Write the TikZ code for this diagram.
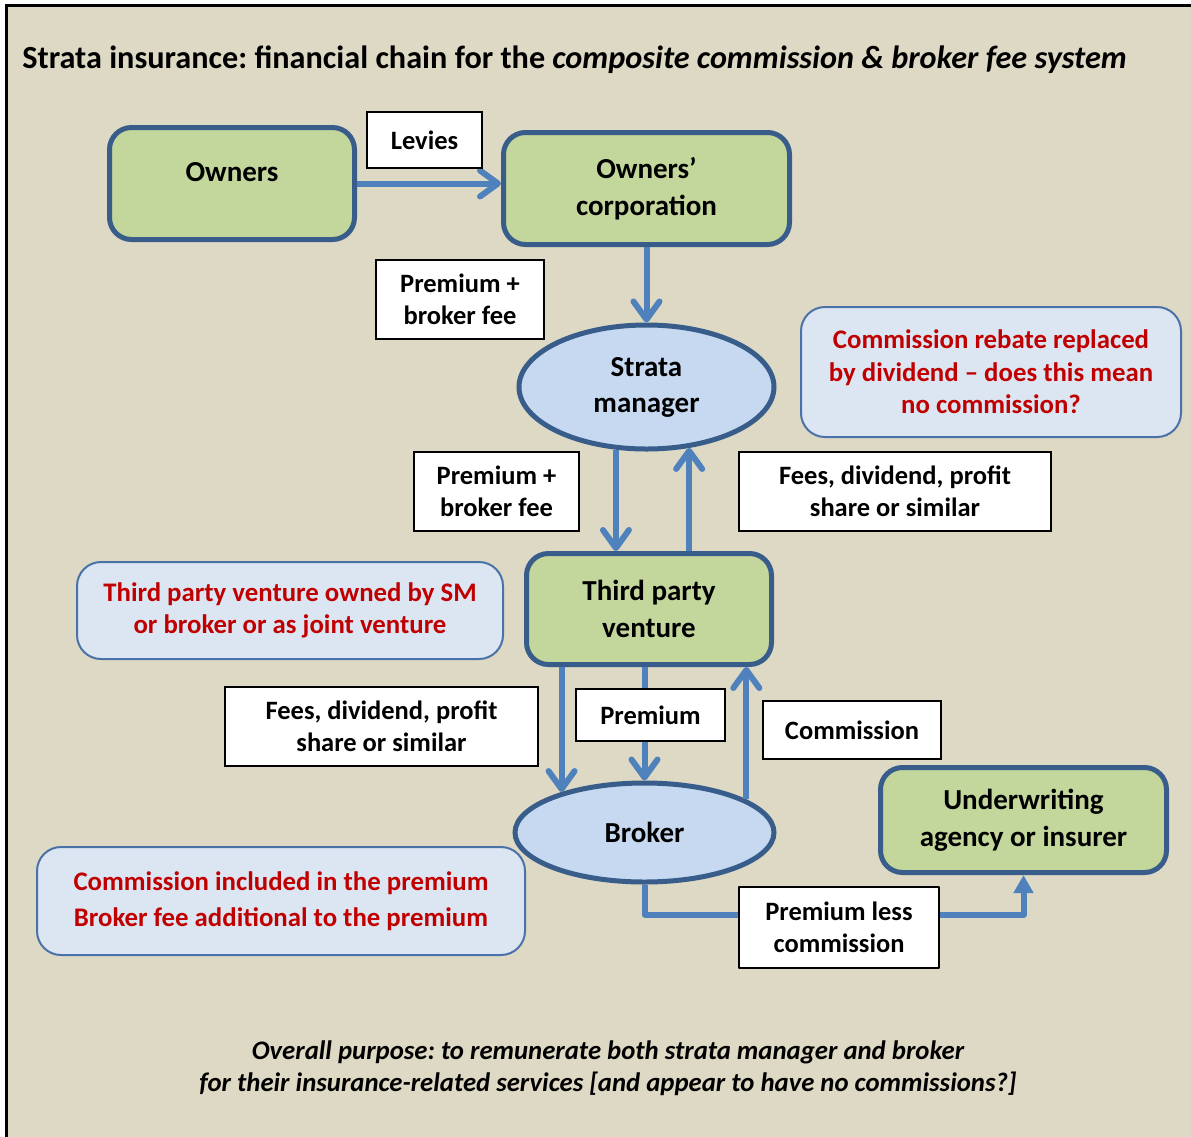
\documentclass[tikz,border=0pt]{standalone}
\usepackage{fontspec}
\setmainfont{Carlito}
\frenchspacing
\usetikzlibrary{shapes.geometric,arrows.meta}

\definecolor{paper}{HTML}{DDD9C4}
\definecolor{olive}{HTML}{C3D69B}
\definecolor{sky}{HTML}{C6D9F1}
\definecolor{pale}{HTML}{DCE6F2}
\definecolor{navy}{HTML}{385D8A}
\definecolor{noteline}{HTML}{4A72A8}
\definecolor{flowblue}{HTML}{4F81BD}
\definecolor{notered}{HTML}{C00000}

\begin{document}
\begin{tikzpicture}[x=0.5pt,y=-0.5pt,
  greenbox/.style={draw=navy, line width=2.5pt, fill=olive, rounded corners=11pt, align=center,
    font=\fontsize{14.5}{18.5}\selectfont\bfseries, inner sep=0pt},
  oval/.style={ellipse, draw=navy, line width=2.5pt, fill=sky, align=center,
    font=\fontsize{14.5}{18}\selectfont\bfseries, inner sep=0pt},
  note/.style={draw=noteline, line width=1pt, fill=pale, rounded corners=12pt, align=center,
    text=notered, font=\fontsize{13.4}{16.25}\selectfont\bfseries, inner sep=0pt},
  tag/.style={draw=black, line width=0.7pt, fill=white, align=center,
    font=\fontsize{13.25}{16}\selectfont\bfseries, inner sep=0pt},
  flow/.style={draw=flowblue, line width=3pt, -{Straight Barb[round,length=9pt,width=13pt]}},
  flowtri/.style={draw=flowblue, line width=3pt, line join=round, -{Triangle[length=9pt,width=9.5pt]}}
]
\useasboundingbox (0,0) rectangle (1191,1137);
\fill[paper] (7,5) rectangle (1191,1137);
\draw[line width=1.5pt] (6.5,1137) -- (6.5,5.5) -- (1191,5.5);

\node[anchor=base west, inner sep=0pt, font=\fontsize{16.12}{19}\selectfont\bfseries] (title) at (22,68)
  {Strata insurance: financial chain for the \textit{composite commission \& broker fee system}};

% boxes and ovals
\node[greenbox, minimum width=122.5pt, minimum height=56pt, text depth=11.5pt] (owners) at (232,183.5) {Owners};
\node[greenbox, minimum width=143pt, minimum height=56pt] (corp) at (646.5,188.5) {Owners’\\corporation};
\node[oval, minimum width=127.5pt, minimum height=62pt] (sm) at (646.5,387) {Strata\\manager};
\node[note, minimum width=190pt, minimum height=65pt] (rebate) at (991,372)
  {Commission rebate replaced\\by dividend – does this mean\\no commission?};
\node[greenbox, minimum width=122.5pt, minimum height=55.5pt] (tpv) at (649,609) {Third party\\venture};
\node[note, minimum width=213pt, minimum height=48.5pt] (jointnote) at (290,610.5)
  {Third party venture owned by SM\\or broker or as joint venture};
\node[note, minimum width=244pt, minimum height=54pt] (feenote) at (281,901)
  {Commission included in the premium\\[1.5pt]Broker fee additional to the premium};
\node[oval, minimum width=129.5pt, minimum height=49.5pt] (broker) at (644.5,832.5) {Broker};
\node[greenbox, minimum width=143pt, minimum height=52.5pt] (uw) at (1023.5,820) {Underwriting\\agency or insurer};

% money flows
\draw[flow] (owners.east) -- (owners.east -| corp.west)
  node[tag, minimum width=57.5pt, minimum height=28pt] (levies) at (424.5,140) {Levies};
\draw[flow] (corp) -- (sm)
  node[tag, minimum width=84pt, minimum height=39.5pt] (pb1) at (460,299.5) {Premium +\\broker fee};
\draw[flow] (sm.244) -- (sm.244 |- tpv.north)
  node[tag, minimum width=82.5pt, minimum height=39.5pt] (pb2) at (496.5,491.5) {Premium +\\broker fee};
\draw[flow] (sm.305 |- tpv.north) -- (sm.305)
  node[tag, minimum width=156pt, minimum height=39.5pt] (fees1) at (895,491.5) {Fees, dividend, profit\\share or similar};
\draw[flow] (broker.154 |- tpv.south) -- (broker.154)
  node[tag, minimum width=156.5pt, minimum height=39.5pt] (fees2) at (381.5,726.5) {Fees, dividend, profit\\share or similar};
\draw[flow] (tpv.south -| broker.north) -- (broker.north)
  node[tag, minimum width=74.5pt, minimum height=26pt] (prem) at (650.5,715) {Premium};
\draw[flow] (broker.18) -- (broker.18 |- tpv.south)
  node[tag, minimum width=89pt, minimum height=29pt] (comm) at (852,730) {Commission};
\draw[flowtri] (broker.south) -- ++(0,30) -| (uw.south)
  node[tag, minimum width=100pt, minimum height=40.5pt] (plc) at (839,927.5) {Premium less\\commission};

\node[align=center, font=\fontsize{13.37}{16}\selectfont\bfseries\itshape] (purpose) at (608,1068)
  {Overall purpose: to remunerate both strata manager and broker\\for their insurance-related services [and appear to have no commissions?]};
\end{tikzpicture}
\end{document}
